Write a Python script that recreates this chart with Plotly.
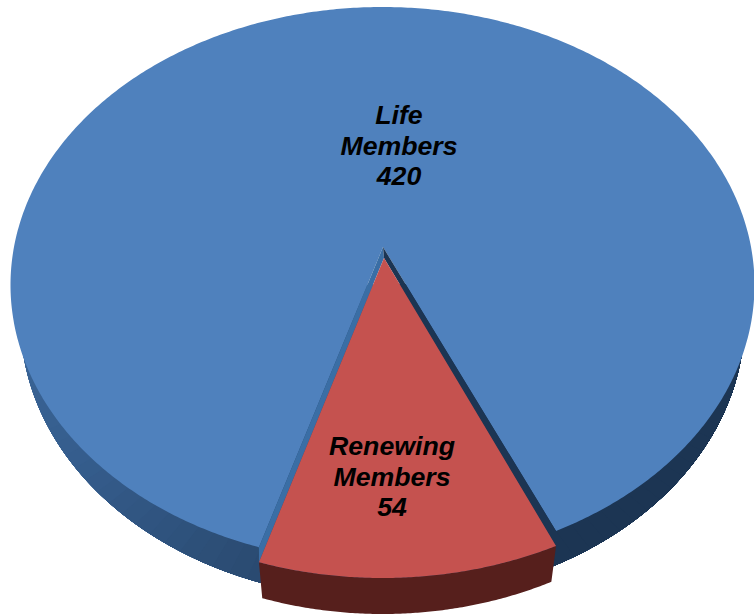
import numpy as np
import plotly.graph_objects as go

categories = ["Life Members", "Renewing Members"]
values = [420, 54]
label_lines = [["Life", "Members"], ["Renewing", "Members"]]

W, H = 754, 614
CX, CY, RX, RY = 382.5, 285, 372, 278    # top face ellipse (pixels)
DEPTH, SIDE_RX = 35, 362                 # extrusion
EXPLODE = 15                             # renewing slice pushed forward
PERSP = 1.151                            # perspective widens the near slice
LEFT_OFFSET = np.radians(19.4)           # rotation of the slice from straight-down
APEX_BLUE = (383, 247)
APEX_RED = (384, 258)

BLUE, RED = "#4f81bd", "#c5524f"
RED_SIDE = "#561f1c"
WALL_LEFT, WALL_RIGHT = "#3a6ea5", "#1c3553"
SIDE_STOPS = [(-100, (60, 104, 155)), (-60, (54, 94, 142)), (-19, (42, 74, 112)), (0, (30, 56, 88)), (28, (28, 53, 83)), (100, (28, 53, 83))]

share = values[1] / sum(values)
sweep = 2 * np.pi * share * PERSP
a_left, a_right = -LEFT_OFFSET, sweep - LEFT_OFFSET


def ell(t, cy, rx=RX, ry=RY):
    """t measured from straight down, positive towards the right."""
    return CX + rx * np.sin(t), cy + ry * np.cos(t)


def poly(x, y, color):
    return go.Scatter(x=list(x), y=list(y), mode="lines", fill="toself", fillcolor=color,
                      line=dict(color=color, width=0, simplify=False), hoverinfo="skip", showlegend=False)


def side_color(deg):
    ds = [s[0] for s in SIDE_STOPS]
    rgb = [int(np.interp(deg, ds, [s[1][i] for s in SIDE_STOPS])) for i in range(3)]
    return "rgb(%d,%d,%d)" % tuple(rgb)


fig = go.Figure()

# blue side wall: each step repaints everything from its angle to the far end,
# so the colour bands share no seams
end = np.radians(100)
for d in np.arange(-100, 100, 3):
    t0 = np.radians(d)
    ts = np.linspace(t0, end, 160)
    sx, sy = ell(ts, CY + DEPTH, SIDE_RX, RY + 1)
    fig.add_trace(poly(np.r_[CX, sx, CX], np.r_[CY, sy, CY], side_color(d + 1.5)))

# blue top face
ts = np.linspace(a_right, 2 * np.pi + a_left, 600)
bx, by = ell(ts, CY)
fig.add_trace(poly(np.r_[APEX_BLUE[0], bx, APEX_BLUE[0]], np.r_[APEX_BLUE[1], by, APEX_BLUE[1]], BLUE))

# cut faces of the notch
lx, ly = ell(a_left, CY)
rx, ry = ell(a_right, CY)
lx2, ly2 = ell(a_left, CY + EXPLODE)
rx2, ry2 = ell(a_right, CY + EXPLODE)
fig.add_trace(poly([APEX_BLUE[0], lx, lx2, APEX_RED[0], APEX_BLUE[0]],
                   [APEX_BLUE[1], ly, ly2, APEX_RED[1], APEX_BLUE[1]], WALL_LEFT))
fig.add_trace(poly([APEX_BLUE[0], rx, rx2, APEX_RED[0], APEX_BLUE[0]],
                   [APEX_BLUE[1], ry, ry2, APEX_RED[1], APEX_BLUE[1]], WALL_RIGHT))

# renewing slice: side then top
ts = np.linspace(a_left, a_right, 120)
tx, ty = ell(ts, CY + EXPLODE)
ox, oy = ell(ts, CY + EXPLODE + DEPTH, SIDE_RX, RY + 1)
fig.add_trace(poly(np.r_[tx, ox[::-1], tx[0]], np.r_[ty, oy[::-1], ty[0]], RED_SIDE))
fig.add_trace(poly(np.r_[APEX_RED[0], tx, APEX_RED[0]], np.r_[APEX_RED[1], ty, APEX_RED[1]], RED))

# labels
label_pos = [(399, [117, 148, 178]), (392, [448, 479, 509])]
for (lx_, ys), lines, v in zip(label_pos, label_lines, values):
    fig.add_trace(go.Scatter(
        x=[lx_] * 3, y=ys, mode="text", text=lines + [str(v)], textposition="middle center",
        textfont=dict(family="Liberation Sans", size=26.7, color="#000000", weight="bold", style="italic"),
        hoverinfo="skip", showlegend=False))

fig.update_layout(
    width=W, height=H, margin=dict(l=0, r=0, t=0, b=0), autosize=False,
    paper_bgcolor="white", plot_bgcolor="white", showlegend=False,
    xaxis=dict(range=[0, W], visible=False, fixedrange=True),
    yaxis=dict(range=[H, 0], visible=False, fixedrange=True),
)
fig.write_html("out.html", config={"displayModeBar": False},
               post_script="document.body.style.margin='0';")
